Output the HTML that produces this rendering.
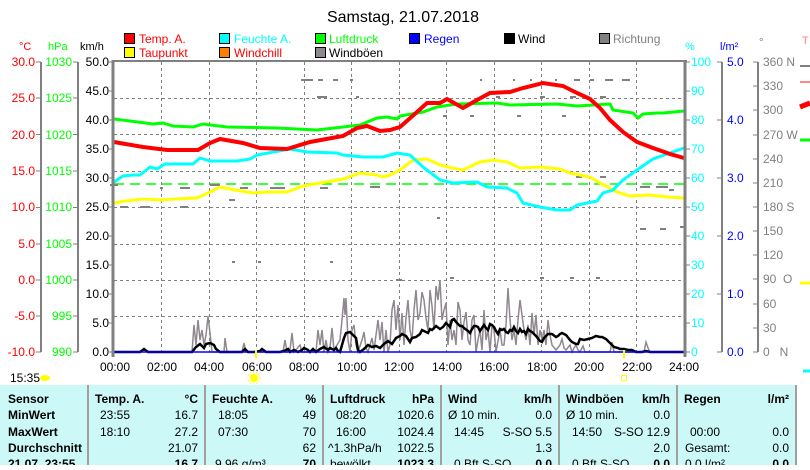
<!DOCTYPE html>
<html><head><meta charset="utf-8"><style>
body{margin:0;background:#fff;width:810px;height:465px;overflow:hidden;font-family:"Liberation Sans",sans-serif}
svg text{font-family:"Liberation Sans",sans-serif}
.t{font-size:12px;font-weight:bold;fill:#000}
.n{font-size:12px;fill:#000}
</style></head><body>
<svg width="810" height="465" viewBox="0 0 810 465" xmlns="http://www.w3.org/2000/svg">
<text x="403" y="22" font-size="16" text-anchor="middle" fill="#000">Samstag, 21.07.2018</text>
<!-- legend -->
<g font-size="12">
<rect x="124.5" y="33.5" width="10" height="10" fill="#f00" stroke="#000"/><text x="139" y="43" fill="#f00">Temp. A.</text>
<rect x="219.5" y="33.5" width="10" height="10" fill="#0ff" stroke="#000"/><text x="234" y="43" fill="#0ff">Feuchte A.</text>
<rect x="315.5" y="33.5" width="10" height="10" fill="#0f0" stroke="#000"/><text x="329" y="43" fill="#0f0">Luftdruck</text>
<rect x="409.5" y="33.5" width="10" height="10" fill="#00f" stroke="#000"/><text x="424" y="43" fill="#00f">Regen</text>
<rect x="504.5" y="33.5" width="10" height="10" fill="#000" stroke="#000"/><text x="518" y="43" fill="#000">Wind</text>
<rect x="599.5" y="33.5" width="10" height="10" fill="#808080" stroke="#000"/><text x="613" y="43" fill="#808080">Richtung</text>
<rect x="124.5" y="47.5" width="10" height="10" fill="#ff0" stroke="#000"/><text x="139" y="57" fill="#f00">Taupunkt</text>
<rect x="219.5" y="47.5" width="10" height="10" fill="#ff8000" stroke="#000"/><text x="234" y="57" fill="#f00">Windchill</text>
<rect x="315.5" y="47.5" width="10" height="10" fill="#908890" stroke="#000"/><text x="329" y="57" fill="#000">Windböen</text>
</g>
<g font-size="11">
<text x="19" y="50" fill="#f00">°C</text><text x="48" y="50" fill="#0f0">hPa</text><text x="80" y="50" fill="#000">km/h</text>
<text x="685" y="50" fill="#0ff">%</text><text x="720" y="50" fill="#00f">l/m²</text><text x="759" y="46" fill="#808080">°</text>
<text x="802" y="44" fill="#f88">T</text>
</g>
<!-- left axes -->
<g stroke="#808080" stroke-width="2"><line x1="41" y1="62" x2="41" y2="352"/><line x1="78" y1="62" x2="78" y2="352"/>
<line x1="722" y1="62" x2="722" y2="352"/><line x1="758" y1="62" x2="758" y2="352"/></g>
<g font-size="12" text-anchor="end">
<g fill="#f00">
<text x="35" y="66">30.0</text><text x="35" y="102">25.0</text><text x="35" y="139">20.0</text><text x="35" y="175">15.0</text><text x="35" y="211">10.0</text><text x="35" y="248">5.0</text><text x="35" y="284">0.0</text><text x="35" y="320">-5.0</text><text x="35" y="356">-10.0</text></g>
<g fill="#0f0">
<text x="72" y="66">1030</text><text x="72" y="102">1025</text><text x="72" y="139">1020</text><text x="72" y="175">1015</text><text x="72" y="211">1010</text><text x="72" y="248">1005</text><text x="72" y="284">1000</text><text x="72" y="320">995</text><text x="72" y="356">990</text></g>
<g fill="#000">
<text x="109" y="66">50.0</text><text x="109" y="95">45.0</text><text x="109" y="124">40.0</text><text x="109" y="153">35.0</text><text x="109" y="182">30.0</text><text x="109" y="211">25.0</text><text x="109" y="240">20.0</text><text x="109" y="269">15.0</text><text x="109" y="298">10.0</text><text x="109" y="327">5.0</text><text x="109" y="356">0.0</text></g>
</g>
<g stroke="#808080" stroke-width="1">
<path d="M36 62h5M36 98h5M36 134.5h5M36 171h5M36 207.5h5M36 244h5M36 280h5M36 316h5M36 352h5"/>
<path d="M73 62h5M73 98h5M73 134.5h5M73 171h5M73 207.5h5M73 244h5M73 280h5M73 316h5M73 352h5"/>
<path d="M109 62h4M109 91h4M109 120h4M109 149h4M109 178h4M109 207h4M109 236h4M109 265h4M109 294h4M109 323h4M109 352h4"/>
<path d="M686 62h4M686 91h4M686 120h4M686 149h4M686 178h4M686 207h4M686 236h4M686 265h4M686 294h4M686 323h4M686 352h4"/>
<path d="M717 62h5M717 120h5M717 178h5M717 236h5M717 294h5M717 352h5"/>
<path d="M753 62h5M753 86h5M753 110h5M753 135h5M753 159h5M753 183h5M753 207h5M753 231h5M753 255h5M753 279h5M753 304h5M753 328h5M753 352h5"/>
</g>
<g font-size="12">
<g fill="#0ff"><text x="691" y="66">100</text><text x="691" y="95">90</text><text x="691" y="124">80</text><text x="691" y="153">70</text><text x="691" y="182">60</text><text x="691" y="211">50</text><text x="691" y="240">40</text><text x="691" y="269">30</text><text x="691" y="298">20</text><text x="691" y="327">10</text><text x="691" y="356">0</text></g>
<g fill="#00f"><text x="727" y="66">5.0</text><text x="727" y="124">4.0</text><text x="727" y="182">3.0</text><text x="727" y="240">2.0</text><text x="727" y="298">1.0</text><text x="727" y="356">0.0</text></g>
<g fill="#808080"><text x="763" y="66">360 N</text><text x="763" y="90">330</text><text x="763" y="114">300</text><text x="763" y="139">270 W</text><text x="763" y="163">240</text><text x="763" y="187">210</text><text x="763" y="211">180 S</text><text x="763" y="235">150</text><text x="763" y="259">120</text><text x="763" y="283">90&#160;&#160;O</text><text x="763" y="308">60</text><text x="763" y="332">30</text><text x="763" y="356">0&#160;&#160;&#160;N</text></g>
</g>
<!-- grid -->
<g stroke="#808080" stroke-width="1" stroke-dasharray="3,3">
<path d="M161.5 62V352M209.5 62V352M256.5 62V352M304.5 62V352M351.5 62V352M399.5 62V352M446.5 62V352M494.5 62V352M541.5 62V352M589.5 62V352M636.5 62V352"/>
<path d="M114 98.5H684M114 134.5H684M114 171.5H684M114 207.5H684M114 244.5H684M114 280.5H684M114 316.5H684"/>
</g>
<line x1="114" y1="184" x2="684" y2="184" stroke="#0f0" stroke-width="1.5" stroke-dasharray="10,6"/>
<!-- richtung dots -->
<g stroke="#808080" stroke-width="2">
<path d="M301 80h12M318 80h5M333 80h5M350 80h3M317 97h10M356 97h3M210 185h10M160 188h3M180 188h10M240 188h8M270 188h15M320 188h8M370 187h10M110 185h8M120 207h8M140 207h10M180 207h8M229 200h6M396 280h6M480 80h2M513 80h2M530 80h2M555 80h2M574 80h6M590 80h4M605 80h8M622 80h8M540 97h5M570 97h6M600 97h6M496 97h4M443 116h4M470 116h4M517 116h4M562 116h4M576 177h6M600 177h6M640 187h10M656 187h12M669 190h5M232 262h3M258 262h3M330 262h3M437 218h3M450 278h4M540 278h4M570 278h4M596 278h4M640 229h6M660 229h6M680 227h4"/>
</g>
<!-- gusts -->
<polyline fill="none" stroke="#908890" stroke-width="1.5" points="192,352 194,325 196,345 198,320 200,340 202,330 204,345 206,335 208,316 210,333 212,352 224,352 225,338 227,352 242,352 244,343 246,352 283,352 285,340 287,352 290,350 292,333 294,352 300,345 302,352 316,352 318,330 320,345 322,330 324,352 326,340 328,352 330,348 332,328 334,350 340,340 342,320 344,298 345,315 346,298 348,340 350,352 352,330 354,325 356,345 358,352 362,340 364,332 366,348 368,352 372,338 374,350 378,320 380,340 382,322 384,352 386,330 388,352 390,345 392,310 394,300 396,330 398,305 400,340 402,313 404,345 406,318 408,300 410,330 412,340 414,310 416,290 418,320 420,313 422,292 424,300 426,318 428,330 430,290 432,306 434,330 436,286 438,300 440,280 442,320 444,310 446,303 448,345 450,320 452,340 454,330 456,345 458,302 460,310 462,340 464,322 466,312 468,340 470,345 472,320 474,315 476,352 478,340 480,330 482,350 484,310 486,340 488,330 490,352 492,325 494,330 496,352 500,330 502,345 504,345 506,325 508,288 510,320 512,340 514,330 516,345 518,320 520,300 522,315 524,330 526,340 528,325 530,345 532,313 534,335 536,315 538,345 540,330 542,340 544,330 546,345 548,320 550,335 552,345 556,350 560,345 562,339 564,348 566,350 570,345 572,352 574,348 576,345 578,350 580,352 583,346 585,352 610,352 612,342 614,352 644,352 646,342 648,348 650,352"/>
<!-- wind -->
<polyline fill="none" stroke="#000" stroke-width="2.5" points="114,352 140,352 144,349 148,352 192,352 196,347 200,344 204,348 206,344 210,343 214,345 216,349 220,352 242,352 245,349 248,352 254,352 260,351 262,349 266,352 280,352 284,351 288,349 290,352 294,350 298,352 302,350 304,348 308,350 310,352 313,349 316,352 320,349 324,347 328,350 330,348 334,350 336,348 338,351 340,352 344,338 346,333 350,332 352,334 356,338 358,350 360,352 364,349 368,345 372,347 376,346 380,348 384,344 388,341 392,344 394,341 396,338 400,336 402,334 406,336 408,339 410,342 412,338 416,337 420,334 422,330 424,331 428,333 430,329 432,330 434,328 436,326 440,329 443,327 446,323 450,327 452,320 454,319 456,322 460,326 462,326 464,328 468,331 470,333 472,329 474,326 476,326 478,327 480,331 482,328 484,325 486,328 488,330 490,324 492,325 494,327 496,331 498,334 500,329 502,330 504,329 506,332 508,333 510,330 512,331 514,327 516,331 518,333 520,329 522,332 524,331 526,334 528,329 530,331 532,332 536,336 540,341 542,342 544,338 546,336 548,334 550,334 552,334 556,337 558,336 560,334 562,333 564,334 566,335 570,340 572,342 576,344 578,344 580,339 584,340 588,339 592,338 596,336 600,337 602,337 604,338 606,339 610,343 612,345 614,347 618,348 620,349 624,349 628,350 632,350 636,352 642,352 646,351 650,352 686,352"/>
<!-- dewpoint -->
<polyline fill="none" stroke="#ff0" stroke-width="3" points="114,203 125,201 143,199 160,200 175,199 197,198 210,192 220,187 235,190 253,193 267,192 287,192 303,186 320,183 343,179 360,173 377,175 383,177 390,175 400,170 413,160 427,159 440,165 452,168 463,170 480,162 493,160 507,162 520,168 540,167 560,169 570,173 590,177 600,183 617,192 630,196 650,195 667,197 684,198"/>
<!-- humidity -->
<polyline fill="none" stroke="#0ff" stroke-width="3" points="114,182 123,176 133,175 140,175 150,167 157,169 165,164 193,164 200,158 210,161 237,161 250,159 257,155 290,149 307,152 337,153 343,155 363,157 383,157 390,155 397,153 410,155 423,167 440,180 453,183 477,182 487,187 507,188 517,193 523,203 540,207 557,210 570,210 577,205 597,201 603,193 613,190 623,180 637,170 653,159 670,153 684,148"/>
<!-- pressure -->
<polyline fill="none" stroke="#0f0" stroke-width="3" points="114,119 153,124 163,123 173,126 193,127 203,124 227,127 277,128 297,129 317,130 343,127 360,125 377,118 387,117 397,119 400,116 423,112 437,107 457,104 497,103 510,105 557,104 577,106 610,104 613,110 633,113 638,118 643,114 657,113 663,113 684,111"/>
<!-- temp -->
<polyline fill="none" stroke="#f00" stroke-width="4" points="114,142 143,147 167,150 198,150 210,143 220,139 243,143 260,148 287,149 310,142 343,136 357,128 367,126 380,131 390,130 400,127 417,112 427,103 440,103 447,99 463,108 477,100 490,93 510,92 523,88 543,83 563,86 577,93 590,99 600,108 610,120 623,132 637,142 653,148 670,154 684,158"/>
<!-- plot border -->
<line x1="114" y1="352" x2="684" y2="352" stroke="#00f" stroke-width="1.5"/>
<g stroke="#808080"><line x1="113" y1="60" x2="113" y2="357" stroke-width="3"/><line x1="685" y1="60" x2="685" y2="357" stroke-width="3"/><line x1="112" y1="61" x2="687" y2="61" stroke-width="2"/></g>
<g stroke="#ff0" stroke-width="2"><line x1="256" y1="350" x2="256" y2="358"/><line x1="624" y1="350" x2="624" y2="358"/></g>
<!-- far right bits -->
<g stroke-width="2"><path d="M800 82h10" stroke="#f88"/><path d="M800 66h10" stroke="#808080"/><path d="M800 107l10-4" stroke="#f00" stroke-width="5"/><path d="M800 140h10" stroke="#0f0" stroke-width="3"/><path d="M800 283h10" stroke="#ff0" stroke-width="3"/><path d="M803 371h7" stroke="#0ff" stroke-width="3"/></g>
<!-- x labels -->
<g font-size="12" fill="#000" text-anchor="middle">
<text x="115" y="371">00:00</text><text x="162" y="371">02:00</text><text x="209" y="371">04:00</text><text x="257" y="371">06:00</text><text x="304" y="371">08:00</text><text x="352" y="371">10:00</text><text x="399" y="371">12:00</text><text x="447" y="371">14:00</text><text x="494" y="371">16:00</text><text x="542" y="371">18:00</text><text x="589" y="371">20:00</text><text x="637" y="371">22:00</text><text x="684" y="371">24:00</text>
</g>
<text x="10" y="382" font-size="12">15:35</text>
<ellipse cx="45" cy="378" rx="5" ry="3" fill="#ff0"/>
<circle cx="254" cy="378" r="4" fill="#ff0"/><circle cx="254" cy="378" r="6" fill="none" stroke="#ff0" stroke-dasharray="1.5,1.5"/>
<rect x="621.5" y="375.5" width="5" height="5" fill="none" stroke="#ff0"/>
<!-- table -->
<rect x="0" y="385" width="810" height="80" fill="#ccf8f8"/>
<rect x="796" y="385" width="14" height="80" fill="#fff"/>
<g stroke="#a0a0a0" stroke-width="2"><path d="M88 385V465M205 385V465M323 385V465M441 385V465M559 385V465M677 385V465M796 385V465"/></g>
<g class="t">
<text x="8" y="403">Sensor</text><text x="8" y="419">MinWert</text><text x="8" y="436">MaxWert</text><text x="8" y="452">Durchschnitt</text><text x="8" y="468">21.07. 23:55</text>
<text x="95" y="403">Temp. A.</text><text x="198" y="403" text-anchor="end">°C</text>
<text x="212" y="403">Feuchte A.</text><text x="316" y="403" text-anchor="end">%</text>
<text x="330" y="403">Luftdruck</text><text x="434" y="403" text-anchor="end">hPa</text>
<text x="448" y="403">Wind</text><text x="552" y="403" text-anchor="end">km/h</text>
<text x="566" y="403">Windböen</text><text x="670" y="403" text-anchor="end">km/h</text>
<text x="684" y="403">Regen</text><text x="789" y="403" text-anchor="end">l/m²</text>
<text x="198" y="468" text-anchor="end">16.7</text><text x="316" y="468" text-anchor="end">70</text><text x="434" y="468" text-anchor="end">1023.3</text><text x="552" y="468" text-anchor="end">0.0</text><text x="670" y="468" text-anchor="end">0.0</text><text x="789" y="468" text-anchor="end">0.0</text>
</g>
<g class="n">
<text x="100" y="419">23:55</text><text x="198" y="419" text-anchor="end">16.7</text>
<text x="100" y="436">18:10</text><text x="198" y="436" text-anchor="end">27.2</text>
<text x="198" y="452" text-anchor="end">21.07</text>
<text x="218" y="419">18:05</text><text x="316" y="419" text-anchor="end">49</text>
<text x="218" y="436">07:30</text><text x="316" y="436" text-anchor="end">70</text>
<text x="316" y="452" text-anchor="end">62</text><text x="215" y="468">9.96 g/m³</text>
<text x="336" y="419">08:20</text><text x="434" y="419" text-anchor="end">1020.6</text>
<text x="336" y="436">16:00</text><text x="434" y="436" text-anchor="end">1024.4</text>
<text x="328" y="452">^1.3hPa/h</text><text x="434" y="452" text-anchor="end">1022.5</text><text x="330" y="468">bewölkt</text>
<text x="448" y="419">Ø 10 min.</text><text x="552" y="419" text-anchor="end">0.0</text>
<text x="454" y="436">14:45</text><text x="552" y="436" text-anchor="end">S-SO 5.5</text>
<text x="552" y="452" text-anchor="end">1.3</text><text x="454" y="468">0 Bft S-SO</text>
<text x="566" y="419">Ø 10 min.</text><text x="670" y="419" text-anchor="end">0.0</text>
<text x="572" y="436">14:50</text><text x="670" y="436" text-anchor="end">S-SO 12.9</text>
<text x="670" y="452" text-anchor="end">2.0</text><text x="572" y="468">0 Bft S-SO</text>
<text x="690" y="436">00:00</text><text x="789" y="436" text-anchor="end">0.0</text>
<text x="685" y="452">Gesamt:</text><text x="789" y="452" text-anchor="end">0.0</text><text x="685" y="468">0.0 l/m²</text>
</g>
</svg>
</body></html>
